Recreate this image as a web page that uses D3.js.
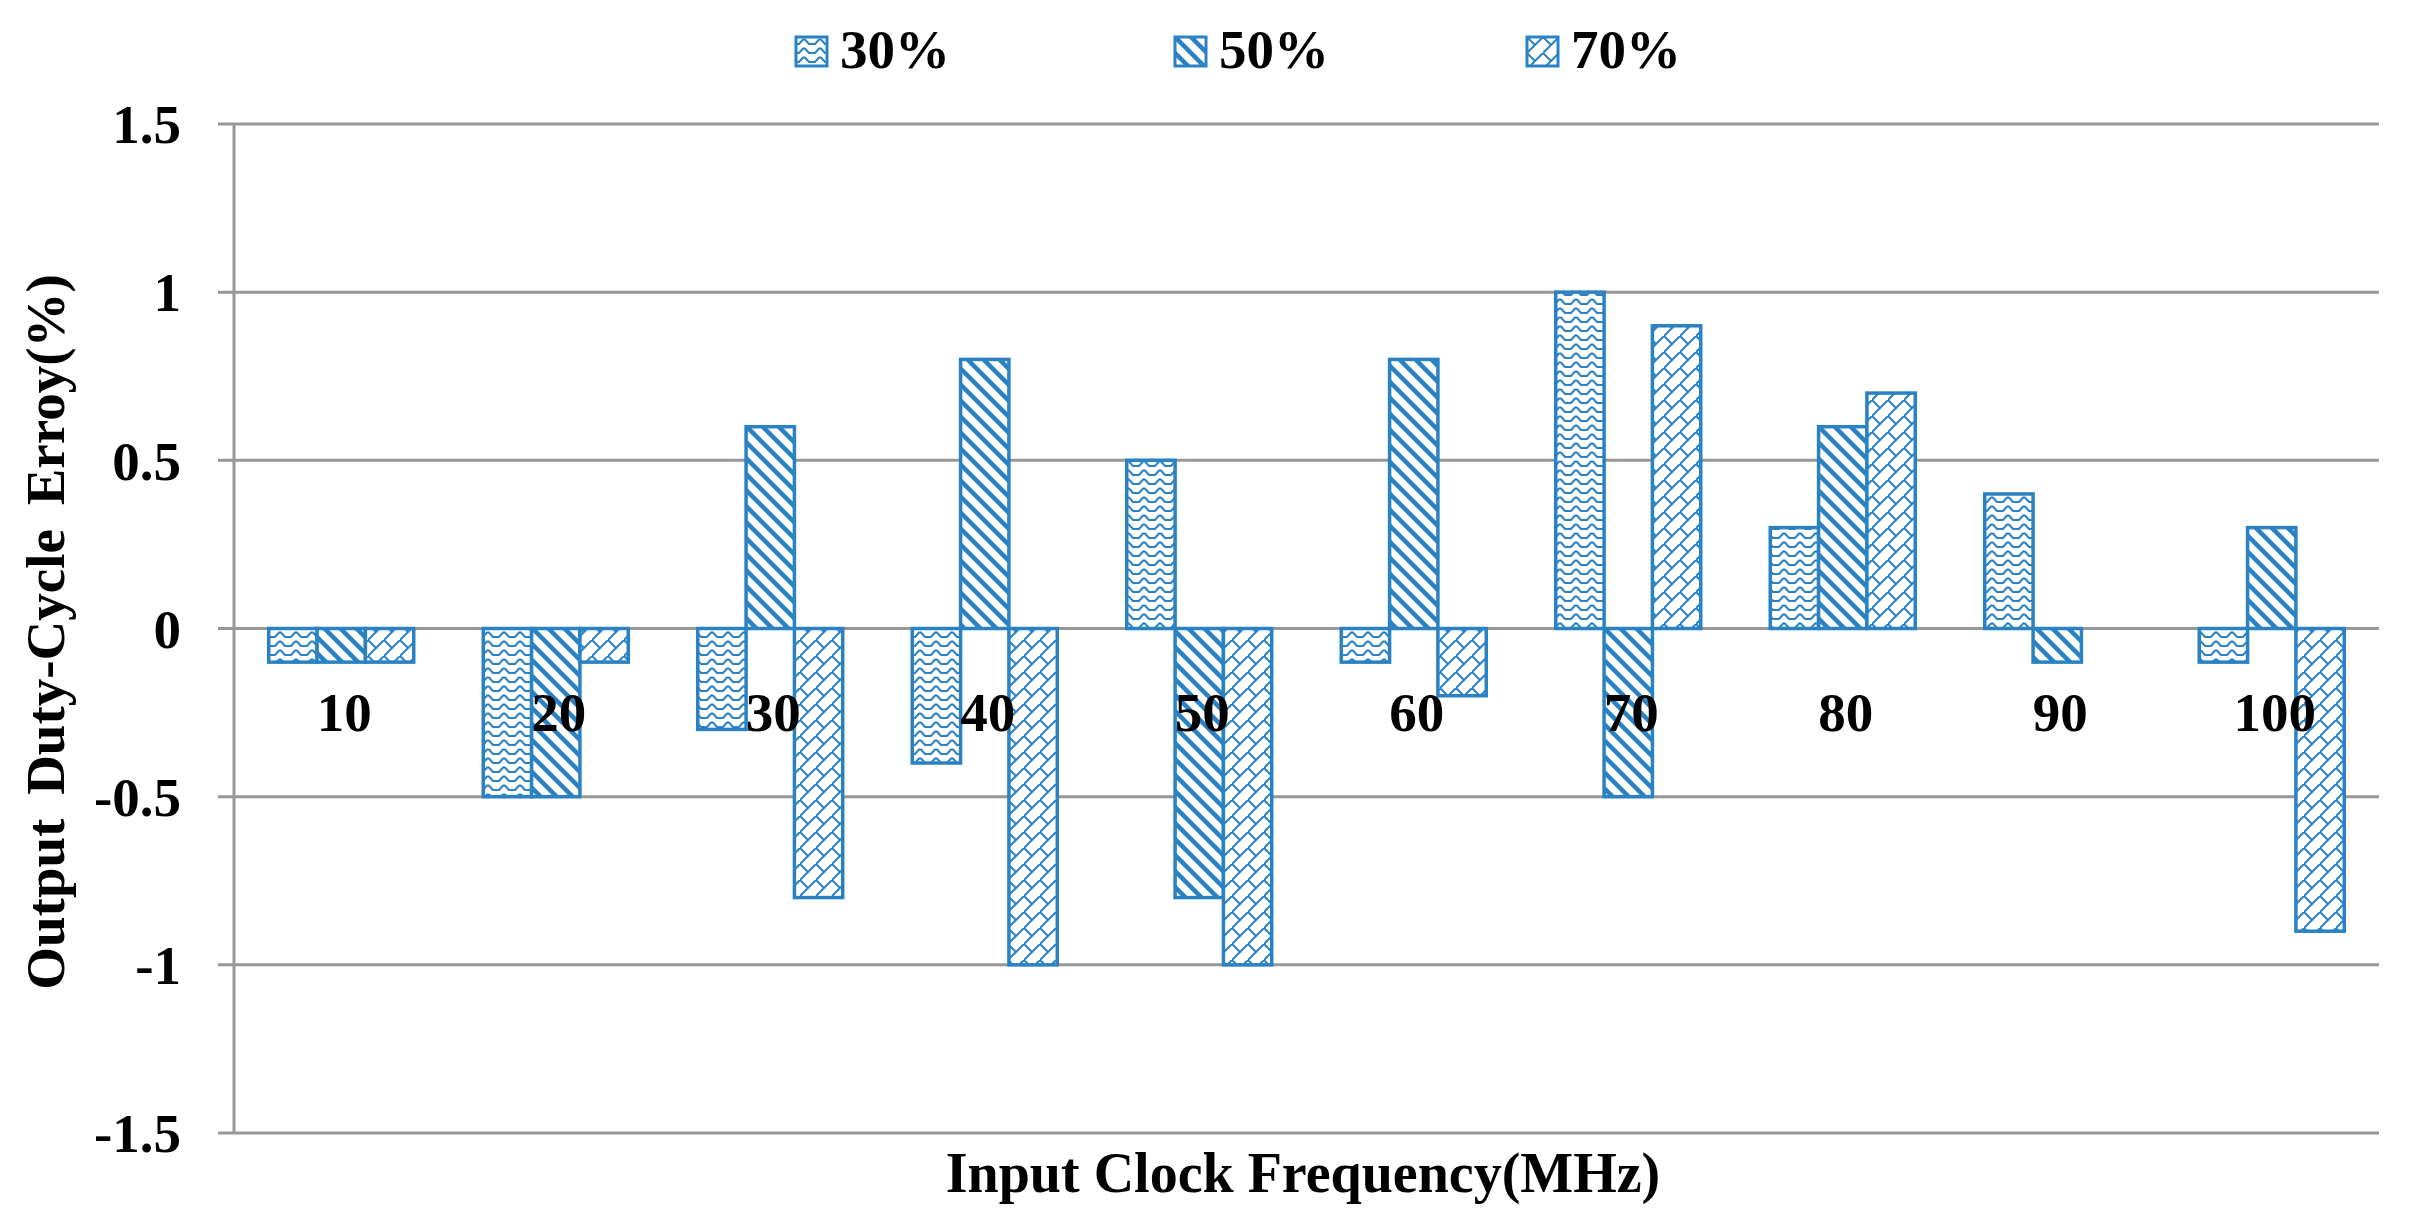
<!DOCTYPE html>
<html>
<head>
<meta charset="utf-8">
<script src="https://cdn.jsdelivr.net/npm/d3@7"></script>
<style>
  html, body { margin: 0; padding: 0; background: #fff; }
  svg { display: block; }
  text { font-family: "Liberation Serif", "Times New Roman", serif; font-weight: bold; fill: #000; }
</style>
</head>
<body>
<svg id="chart" width="2417" height="1223"></svg>
<script>
// ---- data ----
const categories = ["10", "20", "30", "40", "50", "60", "70", "80", "90", "100"];
const seriesNames = ["30%", "50%", "70%"];
const duty30 = [-0.1, -0.5, -0.3, -0.4, 0.5, -0.1, 1.0, 0.3, 0.4, -0.1];
const duty50 = [-0.1, -0.5, 0.6, 0.8, -0.8, 0.8, -0.5, 0.6, -0.1, 0.3];
const duty70 = [-0.1, -0.1, -0.8, -1.0, -1.0, -0.2, 0.9, 0.7, 0, -0.9];
const yTicks = [-1.5, -1, -0.5, 0, 0.5, 1, 1.5];
const xTitle = "Input Clock Frequency(MHz)";
const yTitle = "Output Duty-Cycle Erroy(%)";

const seriesValues = [duty30, duty50, duty70];
const blue = "#2a82c4";
const grid = "#979797";

const svg = d3.select("#chart");
const pLeft = 234, pRight = 2379, pTop = 124, pBottom = 1133;

const x = d3.scaleBand().domain(categories).range([pLeft, pRight]).paddingInner(0.324).paddingOuter(0.162);
const xs = d3.scaleBand().domain(seriesNames).range([0, x.bandwidth()]);
const y = d3.scaleLinear().domain([-1.5, 1.5]).range([pBottom, pTop]);

// ---- patterns ----
const defs = svg.append("defs");
// wave
const pw = defs.append("pattern").attr("id", "pat0").attr("patternUnits", "userSpaceOnUse")
  .attr("width", 16).attr("height", 9);
pw.append("rect").attr("width", 16).attr("height", 9).attr("fill", "#fff");
pw.append("path").attr("d", "M-1,7 L3,7 L7,2.5 L9,2.5 L13,7 L17,7")
  .attr("fill", "none").attr("stroke", blue).attr("stroke-width", 2);
// wide downward diagonal
const pd = defs.append("pattern").attr("id", "pat1").attr("patternUnits", "userSpaceOnUse")
  .attr("width", 16).attr("height", 16);
pd.append("rect").attr("width", 16).attr("height", 16).attr("fill", "#fff");
pd.append("path").attr("d", "M-4,-4 L20,20 M-4,12 L4,20 M12,-4 L20,4")
  .attr("fill", "none").attr("stroke", blue).attr("stroke-width", 4.5);
// diagonal brick
const pb = defs.append("pattern").attr("id", "pat2").attr("patternUnits", "userSpaceOnUse")
  .attr("width", 16).attr("height", 16);
pb.append("rect").attr("width", 16).attr("height", 16).attr("fill", "#fff");
pb.append("path").attr("d", "M-2,18 L18,-2 M0,0 L8,8")
  .attr("fill", "none").attr("stroke", blue).attr("stroke-width", 2);

// ---- gridlines ----
svg.append("g").selectAll("line").data(yTicks).join("line")
  .attr("x1", pLeft - 16).attr("x2", pRight)
  .attr("y1", d => y(d)).attr("y2", d => y(d))
  .attr("stroke", grid).attr("stroke-width", 3);
// vertical axis line
svg.append("line").attr("x1", pLeft).attr("x2", pLeft).attr("y1", pTop).attr("y2", pBottom)
  .attr("stroke", grid).attr("stroke-width", 3);

// y tick labels
svg.append("g").selectAll("text").data(yTicks).join("text")
  .attr("x", 181).attr("y", d => y(d)).attr("dy", "0.35em")
  .attr("text-anchor", "end").attr("font-size", 55)
  .text(d => String(d));

// ---- bars ----
seriesNames.forEach((s, si) => {
  const vals = seriesValues[si];
  svg.append("g").selectAll("rect")
    .data(categories.map((c, i) => ({ c, v: vals[i] })).filter(d => d.v !== 0))
    .join("rect")
    .attr("x", d => x(d.c) + xs(s))
    .attr("width", xs.bandwidth())
    .attr("y", d => y(Math.max(0, d.v)))
    .attr("height", d => Math.abs(y(d.v) - y(0)))
    .attr("fill", `url(#pat${si})`)
    .attr("stroke", blue).attr("stroke-width", 3.5);
});

// category labels
svg.append("g").selectAll("text").data(categories).join("text")
  .attr("x", d => x(d) + x.bandwidth() / 2 + 3).attr("y", 731)
  .attr("text-anchor", "middle").attr("font-size", 55)
  .text(d => d);

// ---- titles ----
svg.append("text").attr("x", 1303).attr("y", 1192).attr("text-anchor", "middle")
  .attr("font-size", 56).text(xTitle);
svg.append("text").attr("transform", "translate(64,632) rotate(-90)")
  .attr("text-anchor", "middle").attr("font-size", 55).attr("word-spacing", 10).text(yTitle);

// ---- legend ----
const legendX = [796, 1175, 1527];
const lg = svg.append("g").selectAll("g").data(seriesNames).join("g")
  .attr("transform", (d, i) => `translate(${legendX[i]},37)`);
lg.append("rect").attr("width", 31).attr("height", 29)
  .attr("fill", (d, i) => `url(#pat${i})`).attr("stroke", blue).attr("stroke-width", 3);
lg.append("text").attr("x", 44).attr("y", 31).attr("font-size", 55).text(d => d);
</script>
</body>
</html>
